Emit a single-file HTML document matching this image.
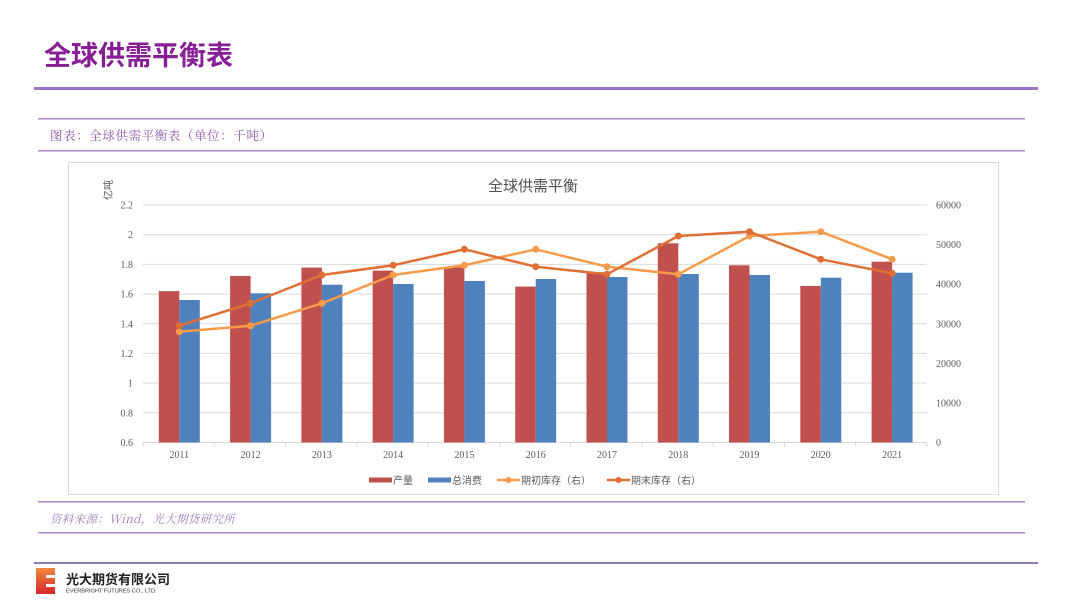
<!DOCTYPE html>
<html><head><meta charset="utf-8">
<style>
html,body{margin:0;padding:0;background:#fff;}
body{width:1080px;height:607px;overflow:hidden;position:relative;font-family:"Liberation Sans","Noto Sans CJK SC",sans-serif;}
svg{position:absolute;left:0;top:0;}
</style></head>
<body>
<svg width="1080" height="607" viewBox="0 0 1080 607" xmlns="http://www.w3.org/2000/svg">
  <!-- Header -->
  <text x="44" y="65" font-family="'Liberation Sans','Noto Sans CJK SC',sans-serif" font-size="27" font-weight="bold" fill="#871e96">全球供需平衡表</text>
  <rect x="34" y="87" width="1004" height="3" fill="#9a72c6"/>
  <rect x="38" y="118" width="987" height="1.6" fill="#b38ccc"/>
  <text x="50" y="140" font-family="'Noto Serif CJK SC','WenQuanYi Zen Hei',serif" font-size="12.5" letter-spacing="0.6" fill="#8e56a8">图表：全球供需平衡表（单位：千吨）</text>
  <rect x="38" y="150" width="987" height="1.6" fill="#b38ccc"/>

  <!-- Chart box -->
  <rect x="68.5" y="162.5" width="930" height="332" fill="#fff" stroke="#d9d9d9" stroke-width="1"/>
  <text x="533" y="191" text-anchor="middle" font-family="'Liberation Sans','Noto Sans CJK SC',sans-serif" font-size="15" fill="#505050">全球供需平衡</text>
  <text transform="translate(112,190) rotate(-90)" text-anchor="middle" font-family="'Liberation Sans','Noto Sans CJK SC',sans-serif" font-size="10" fill="#595959">亿吨</text>

  <!-- gridlines -->
  <g stroke="#d9d9d9" stroke-width="1">
    <line x1="143" y1="205" x2="927" y2="205"/>
    <line x1="143" y1="234.7" x2="927" y2="234.7"/>
    <line x1="143" y1="264.4" x2="927" y2="264.4"/>
    <line x1="143" y1="294.1" x2="927" y2="294.1"/>
    <line x1="143" y1="323.8" x2="927" y2="323.8"/>
    <line x1="143" y1="353.4" x2="927" y2="353.4"/>
    <line x1="143" y1="383.1" x2="927" y2="383.1"/>
    <line x1="143" y1="412.8" x2="927" y2="412.8"/>
    <line x1="143" y1="442.5" x2="927" y2="442.5"/>
  </g>
  <g stroke="#d9d9d9" stroke-width="1">
    <line x1="143" y1="442.5" x2="143" y2="447"/>
    <line x1="214.3" y1="442.5" x2="214.3" y2="447"/>
    <line x1="285.5" y1="442.5" x2="285.5" y2="447"/>
    <line x1="356.8" y1="442.5" x2="356.8" y2="447"/>
    <line x1="428.1" y1="442.5" x2="428.1" y2="447"/>
    <line x1="499.4" y1="442.5" x2="499.4" y2="447"/>
    <line x1="570.6" y1="442.5" x2="570.6" y2="447"/>
    <line x1="641.9" y1="442.5" x2="641.9" y2="447"/>
    <line x1="713.2" y1="442.5" x2="713.2" y2="447"/>
    <line x1="784.5" y1="442.5" x2="784.5" y2="447"/>
    <line x1="855.7" y1="442.5" x2="855.7" y2="447"/>
    <line x1="927" y1="442.5" x2="927" y2="447"/>
  </g>

  <!-- left axis labels -->
  <g font-family="'Liberation Serif',serif" font-size="10" fill="#595959" text-anchor="end">
    <text x="133" y="208.5">2.2</text>
    <text x="133" y="238.2">2</text>
    <text x="133" y="267.9">1.8</text>
    <text x="133" y="297.6">1.6</text>
    <text x="133" y="327.3">1.4</text>
    <text x="133" y="356.9">1.2</text>
    <text x="133" y="386.6">1</text>
    <text x="133" y="416.3">0.8</text>
    <text x="133" y="446">0.6</text>
  </g>
  <!-- right axis labels -->
  <g font-family="'Liberation Serif',serif" font-size="10" fill="#595959" text-anchor="start">
    <text x="936" y="208.5">60000</text>
    <text x="936" y="248.1">50000</text>
    <text x="936" y="287.7">40000</text>
    <text x="936" y="327.3">30000</text>
    <text x="936" y="366.9">20000</text>
    <text x="936" y="406.4">10000</text>
    <text x="936" y="446">0</text>
  </g>
  <!-- x labels -->
  <g font-family="'Liberation Serif',serif" font-size="10" fill="#595959" text-anchor="middle">
    <text x="179.3" y="458">2011</text>
    <text x="250.6" y="458">2012</text>
    <text x="321.9" y="458">2013</text>
    <text x="393.1" y="458">2014</text>
    <text x="464.4" y="458">2015</text>
    <text x="535.7" y="458">2016</text>
    <text x="607" y="458">2017</text>
    <text x="678.3" y="458">2018</text>
    <text x="749.5" y="458">2019</text>
    <text x="820.8" y="458">2020</text>
    <text x="892.1" y="458">2021</text>
  </g>

  <!-- red bars -->
  <g fill="#c0504d">
    <rect x="158.8" y="291.1" width="20.5" height="151.4"/>
    <rect x="230.1" y="276" width="20.5" height="166.5"/>
    <rect x="301.4" y="267.6" width="20.5" height="174.9"/>
    <rect x="372.6" y="270.6" width="20.5" height="171.9"/>
    <rect x="443.9" y="267.3" width="20.5" height="175.2"/>
    <rect x="515.2" y="286.6" width="20.5" height="155.9"/>
    <rect x="586.5" y="272.2" width="20.5" height="170.3"/>
    <rect x="657.8" y="243.3" width="20.5" height="199.2"/>
    <rect x="729" y="265.3" width="20.5" height="177.2"/>
    <rect x="800.3" y="285.9" width="20.5" height="156.6"/>
    <rect x="871.6" y="261.7" width="20.5" height="180.8"/>
  </g>
  <!-- blue bars -->
  <g fill="#4f81bd">
    <rect x="179.3" y="300" width="20.5" height="142.5"/>
    <rect x="250.6" y="293.3" width="20.5" height="149.2"/>
    <rect x="321.9" y="284.7" width="20.5" height="157.8"/>
    <rect x="393.1" y="284" width="20.5" height="158.5"/>
    <rect x="464.4" y="281" width="20.5" height="161.5"/>
    <rect x="535.7" y="279" width="20.5" height="163.5"/>
    <rect x="607" y="277" width="20.5" height="165.5"/>
    <rect x="678.3" y="274" width="20.5" height="168.5"/>
    <rect x="749.5" y="275" width="20.5" height="167.5"/>
    <rect x="820.8" y="277.7" width="20.5" height="164.8"/>
    <rect x="892.1" y="272.7" width="20.5" height="169.8"/>
  </g>

  <!-- 期初库存 -->
  <polyline fill="none" stroke="#f79a4a" stroke-width="2.5" stroke-linejoin="round"
    points="179.3,331.7 250.6,325.7 321.9,303.3 393.1,275 464.4,265.3 535.7,249.3 607,266.7 678.3,274.3 749.5,236 820.8,231.7 892.1,259.3"/>
  <g fill="#f79a4a">
    <circle cx="179.3" cy="331.7" r="3.5"/><circle cx="250.6" cy="325.7" r="3.5"/><circle cx="321.9" cy="303.3" r="3.5"/>
    <circle cx="393.1" cy="275" r="3.5"/><circle cx="464.4" cy="265.3" r="3.5"/><circle cx="535.7" cy="249.3" r="3.5"/>
    <circle cx="607" cy="266.7" r="3.5"/><circle cx="678.3" cy="274.3" r="3.5"/><circle cx="749.5" cy="236" r="3.5"/>
    <circle cx="820.8" cy="231.7" r="3.5"/><circle cx="892.1" cy="259.3" r="3.5"/>
  </g>
  <!-- 期末库存 -->
  <polyline fill="none" stroke="#df6f34" stroke-width="2.5" stroke-linejoin="round"
    points="179.3,325.7 250.6,303.3 321.9,275 393.1,265.3 464.4,249.3 535.7,266.7 607,274.3 678.3,236 749.5,231.7 820.8,259.3 892.1,273.3"/>
  <g fill="#df6f34">
    <circle cx="179.3" cy="325.7" r="3.5"/><circle cx="250.6" cy="303.3" r="3.5"/><circle cx="321.9" cy="275" r="3.5"/>
    <circle cx="393.1" cy="265.3" r="3.5"/><circle cx="464.4" cy="249.3" r="3.5"/><circle cx="535.7" cy="266.7" r="3.5"/>
    <circle cx="607" cy="274.3" r="3.5"/><circle cx="678.3" cy="236" r="3.5"/><circle cx="749.5" cy="231.7" r="3.5"/>
    <circle cx="820.8" cy="259.3" r="3.5"/><circle cx="892.1" cy="273.3" r="3.5"/>
  </g>

  <!-- legend -->
  <g font-family="'Liberation Sans','Noto Sans CJK SC',sans-serif" font-size="10" fill="#595959">
    <rect x="369" y="477.5" width="23" height="5" fill="#c0504d"/>
    <text x="393" y="484">产量</text>
    <rect x="428" y="477.5" width="23" height="5" fill="#4f81bd"/>
    <text x="452" y="484">总消费</text>
    <line x1="497" y1="480" x2="520" y2="480" stroke="#f79a4a" stroke-width="2.5"/>
    <circle cx="508.5" cy="480" r="3" fill="#f79a4a"/>
    <text x="521" y="484">期初库存（右）</text>
    <line x1="607" y1="480" x2="630" y2="480" stroke="#df6f34" stroke-width="2.5"/>
    <circle cx="618.5" cy="480" r="3" fill="#df6f34"/>
    <text x="631" y="484">期末库存（右）</text>
  </g>

  <!-- source -->
  <rect x="38" y="501" width="987" height="1.6" fill="#b38ccc"/>
  <text x="50" y="523" font-family="'Noto Serif CJK SC','WenQuanYi Zen Hei',serif" font-size="11.5" font-style="italic" letter-spacing="0.3" fill="#a07cbc">资料来源：Wind，光大期货研究所</text>
  <rect x="38" y="532" width="987" height="1.6" fill="#b38ccc"/>

  <!-- footer -->
  <rect x="34" y="562" width="1004" height="2" fill="#8f74b8"/>
  <defs>
    <linearGradient id="lg" x1="0" y1="0" x2="0" y2="1">
      <stop offset="0" stop-color="#f08a3a"/>
      <stop offset="1" stop-color="#d8262a"/>
    </linearGradient>
  </defs>
  <rect x="36" y="568" width="19" height="26" fill="url(#lg)"/>
  <rect x="46" y="575" width="9" height="3" fill="#fff"/>
  <rect x="46" y="584" width="9" height="3" fill="#fff"/>
  <text x="66" y="584" font-family="'Liberation Sans','Noto Sans CJK SC',sans-serif" font-size="13" font-weight="bold" fill="#222">光大期货有限公司</text>
  <text x="66" y="592.5" font-family="'Liberation Sans',sans-serif" font-size="5.6" fill="#333">EVERBRIGHT FUTURES CO., LTD.</text>
</svg>
</body></html>
